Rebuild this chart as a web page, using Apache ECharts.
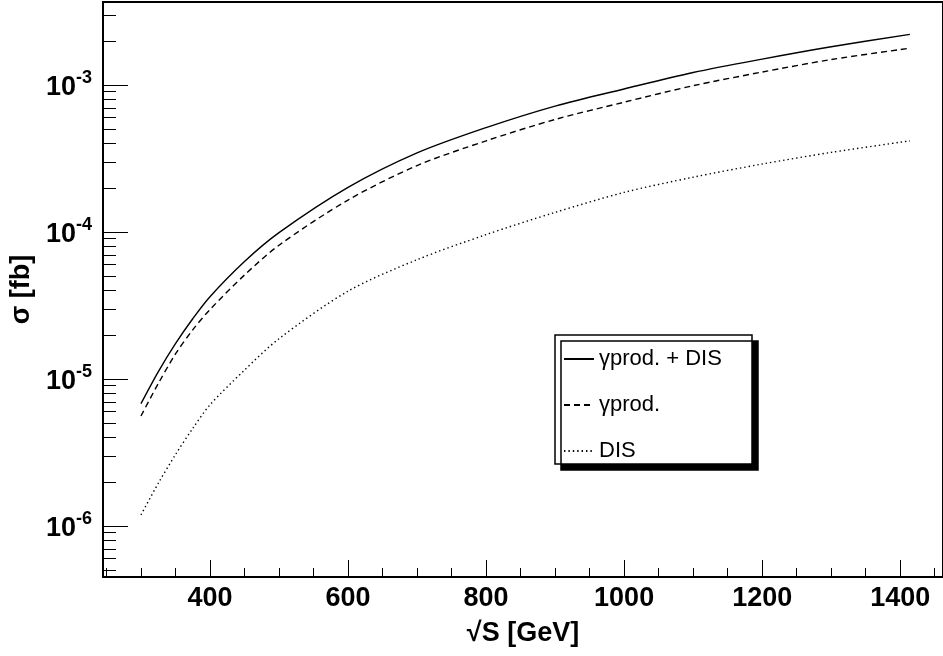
<!DOCTYPE html>
<html><head><meta charset="utf-8">
<script src="https://cdn.jsdelivr.net/npm/echarts@6/dist/echarts.min.js"></script>
<style>html,body{margin:0;padding:0;background:#fff}#c{width:943px;height:656px}</style>
</head><body><div id="c"></div>
<script>
// ---- data ----
const sqrtS = [300, 325, 350, 375, 400, 450, 500, 600, 700, 800, 900, 1000, 1100, 1200, 1300, 1414];
const total = [6.8e-6, 1.12e-5, 1.74e-5, 2.57e-5, 3.63e-5, 6.3e-5, 9.9e-5, 2.01e-4, 3.45e-4, 5.13e-4, 7.19e-4, 9.4e-4, 1.216e-3, 1.50e-3, 1.82e-3, 2.21e-3];
const gammaProd = [5.6e-6, 9.3e-6, 1.48e-5, 2.16e-5, 2.97e-5, 5.1e-5, 8.13e-5, 1.65e-4, 2.83e-4, 4.17e-4, 5.83e-4, 7.64e-4, 9.89e-4, 1.225e-3, 1.49e-3, 1.78e-3];
const dis = [1.19e-6, 1.95e-6, 3.06e-6, 4.61e-6, 6.67e-6, 1.15e-5, 1.88e-5, 3.96e-5, 6.48e-5, 9.6e-5, 1.36e-4, 1.86e-4, 2.36e-4, 2.9e-4, 3.48e-4, 4.17e-4];
const seriesNames = ['γprod. + DIS', 'γprod.', 'DIS'];
const xMajorTicks = [400, 600, 800, 1000, 1200, 1400];
const xMinorTicks = [250, 300, 350, 450, 500, 550, 650, 700, 750, 850, 900, 950, 1050, 1100, 1150, 1250, 1300, 1350, 1450];
const yMajorTicks = [1e-6, 1e-5, 1e-4, 1e-3];
const yMinorTicks = [5e-7, 6e-7, 7e-7, 8e-7, 9e-7,
  2e-6, 3e-6, 4e-6, 5e-6, 6e-6, 7e-6, 8e-6, 9e-6,
  2e-5, 3e-5, 4e-5, 5e-5, 6e-5, 7e-5, 8e-5, 9e-5,
  2e-4, 3e-4, 4e-4, 5e-4, 6e-4, 7e-4, 8e-4, 9e-4,
  2e-3, 3e-3];
const xRange = [245, 1462];
const yRange = [4.5e-7, 3.67e-3];

const FONT = '"Liberation Sans", Arial, Helvetica, sans-serif';
const pairs = ys => sqrtS.map((x, i) => [x, ys[i]]);

const chart = echarts.init(document.getElementById('c'), null, {renderer: 'canvas'});
chart.setOption({
  animation: false,
  backgroundColor: '#fff',
  grid: {left: 103, top: 2, width: 841, height: 575, show: true, borderColor: '#000', borderWidth: 2, backgroundColor: 'transparent'},
  legend: {
    left: 555, top: 335, orient: 'vertical', padding: [11, 8, 0, 8], itemGap: 20,
    itemWidth: 30, itemHeight: 14,
    backgroundColor: '#fff', borderColor: '#000', borderWidth: 1.5,
    shadowColor: '#000', shadowBlur: 0, shadowOffsetX: 6, shadowOffsetY: 6,
    itemStyle: {opacity: 0},
    textStyle: {fontSize: 22, fontFamily: FONT, color: '#000', width: 145, lineHeight: 26},
    data: seriesNames
  },
  xAxis: [{
    type: 'value', min: xRange[0], max: xRange[1], position: 'bottom',
    axisLine: {show: true, lineStyle: {color: '#000', width: 2}},
    axisTick: {show: true, inside: true, length: 17, customValues: xMajorTicks, lineStyle: {color: '#000', width: 1}},
    axisLabel: {show: true, customValues: xMajorTicks, margin: 8, fontSize: 27, fontWeight: 'bold', fontFamily: FONT, color: '#000',
      formatter: v => String(v)},
    splitLine: {show: false},
    name: '√S [GeV]', nameLocation: 'middle', nameGap: 43,
    nameTextStyle: {fontSize: 27, fontWeight: 'bold', fontFamily: FONT, color: '#000'}
  }, {
    type: 'value', min: xRange[0], max: xRange[1], position: 'bottom',
    axisLine: {show: false},
    axisTick: {show: true, inside: true, length: 9, customValues: xMinorTicks, lineStyle: {color: '#000', width: 1}},
    axisLabel: {show: false}, splitLine: {show: false}
  }],
  yAxis: [{
    type: 'log', logBase: 10, min: yRange[0], max: yRange[1], position: 'left',
    axisLine: {show: true, lineStyle: {color: '#000', width: 2}},
    axisTick: {show: true, inside: true, length: 25, customValues: yMajorTicks, lineStyle: {color: '#000', width: 1}},
    axisLabel: {
      show: true, customValues: yMajorTicks, margin: 11,
      formatter: v => '{b|10}{s|' + Math.round(Math.log10(v)) + '}',
      rich: {
        b: {fontSize: 27, fontWeight: 'bold', fontFamily: FONT, color: '#000', verticalAlign: 'bottom', lineHeight: 32},
        s: {fontSize: 18, fontWeight: 'bold', fontFamily: FONT, color: '#000', verticalAlign: 'top', lineHeight: 32}
      }
    },
    splitLine: {show: false},
    name: 'σ [fb]', nameLocation: 'middle', nameGap: 62, nameRotate: 90,
    nameTextStyle: {fontSize: 27, fontWeight: 'bold', fontFamily: FONT, color: '#000'}
  }, {
    type: 'log', logBase: 10, min: yRange[0], max: yRange[1], position: 'left',
    axisLine: {show: false},
    axisTick: {show: true, inside: true, length: 13, customValues: yMinorTicks, lineStyle: {color: '#000', width: 1}},
    axisLabel: {show: false}, splitLine: {show: false}
  }],
  series: [
    {name: seriesNames[0], type: 'line', data: pairs(total), smooth: 0.3, symbol: 'none',
     lineStyle: {color: '#000', width: 1.4, type: 'solid'}, itemStyle: {color: '#000'}},
    {name: seriesNames[1], type: 'line', data: pairs(gammaProd), smooth: 0.3, symbol: 'none',
     lineStyle: {color: '#000', width: 1.4, type: [6, 4]}, itemStyle: {color: '#000'}},
    {name: seriesNames[2], type: 'line', data: pairs(dis), smooth: 0.3, symbol: 'none',
     lineStyle: {color: '#000', width: 1.4, type: [1.4, 3]}, itemStyle: {color: '#000'}}
  ]
});
</script>
</body></html>
